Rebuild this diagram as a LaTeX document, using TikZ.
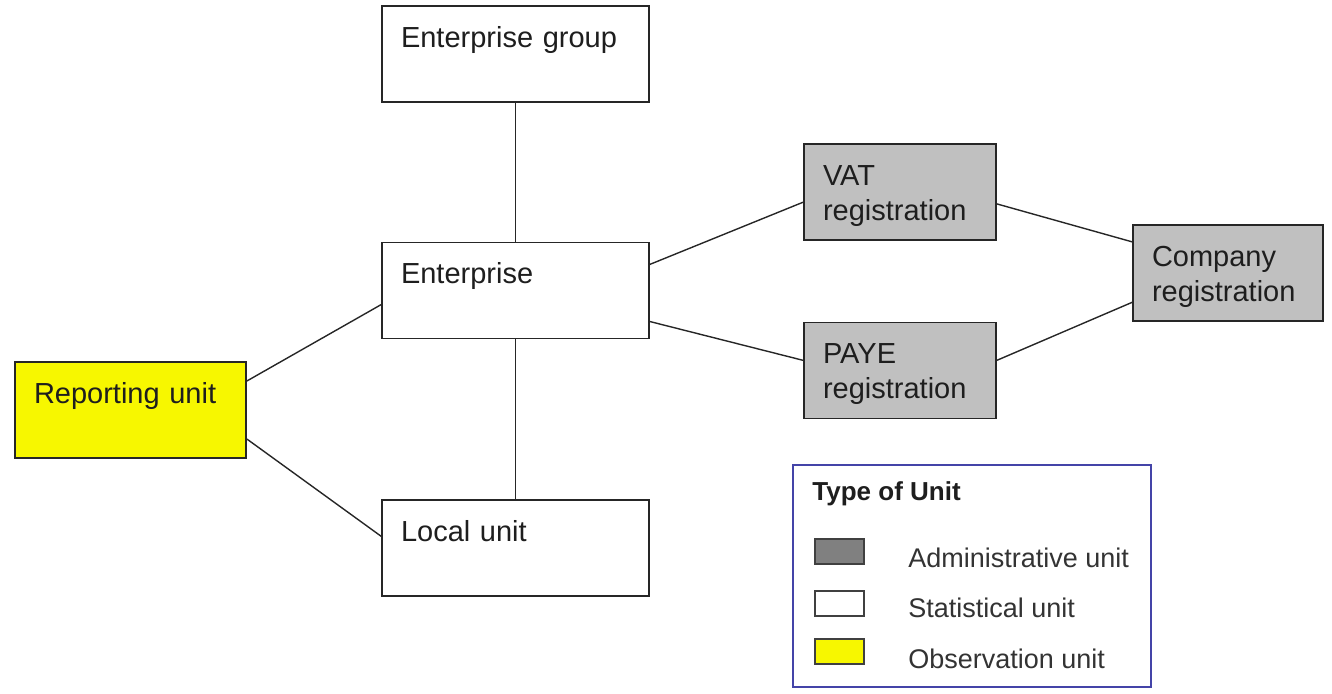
\documentclass[tikz,border=0pt]{standalone}
\usepackage{fontspec}
\setmainfont{Liberation Sans}
\usetikzlibrary{positioning}
\definecolor{admgray}{HTML}{C0C0C0}
\definecolor{swgray}{HTML}{808080}
\definecolor{obsyellow}{HTML}{F7F700}
\definecolor{legblue}{HTML}{4444A8}
\definecolor{txt}{HTML}{1E1E1E}
\tikzset{unit/.style={draw=black!85,line width=0.9pt,fill=white,align=left,inner xsep=9.5pt,inner ysep=0pt,text height=20.5pt,text depth=27.5pt,text=txt},adm/.style={unit,fill=admgray},obs/.style={unit,fill=obsyellow},link/.style={draw=black!85,line width=0.7pt},swatch/.style={draw=black!75,line width=0.9pt,minimum width=24.5pt,minimum height=12.5pt,inner sep=0pt},leglab/.style={anchor=west,inner sep=0pt,text=black!80,font=\fontsize{13.5}{16}\selectfont}}

\begin{document}
\begin{tikzpicture}[x=0.5pt,y=-0.5pt,font=\fontsize{14.5}{17.5}\selectfont]
\useasboundingbox (0,0) rectangle (1332,693);
\node[unit,text width=114.5pt] (eg) at (515.5,54) {Enterprise group};
\node[unit,text width=114.5pt] (ent) at (515.5,290.5) {Enterprise};
\node[unit,text width=114.5pt] (lu) at (515.5,548) {Local unit};
\node[obs,text width=96.5pt] (ru) at (130.5,410) {Reporting unit};
\node[adm,text width=77pt] (vat) at (900,192) {VAT\\registration};
\node[adm,text width=77pt] (paye) at (900,370.5) {PAYE\\registration};
\node[adm,text width=76pt] (co) at (1228,273) {Company\\registration};
\draw[link] (eg) -- (ent);
\draw[link] (ent) -- (lu);
\draw[link] (ru.14.6) -- (ent.186.2);
\draw[link] (ru.-14.1) -- (lu.175.7);
\draw[link] (ent.11.2) -- (vat.186.5);
\draw[link] (ent.-13.7) -- (paye.174.9);
\draw[link] (vat.-7.1) -- (co.162.5);
\draw[link] (paye.6.3) -- (co.197.5);
\node[draw=legblue,line width=0.9pt,minimum width=179pt,minimum height=111pt,inner sep=0pt] (leg) at (972,576) {};
\node[anchor=west,inner sep=0pt,font=\fontsize{13}{16}\selectfont\bfseries,text=txt] (legtitle) at (812,494) {Type of Unit};
\node[swatch,fill=swgray] (swadm) at (839.5,551.5) {};
\node[swatch,fill=white] (swstat) at (839.5,603.5) {};
\node[swatch,fill=obsyellow] (swobs) at (839.5,651.5) {};
\node[leglab] (labadm) at (908,558) {Administrative unit};
\node[leglab] (labstat) at (908,608) {Statistical unit};
\node[leglab] (labobs) at (908,659) {Observation unit};
\end{tikzpicture}
\end{document}
